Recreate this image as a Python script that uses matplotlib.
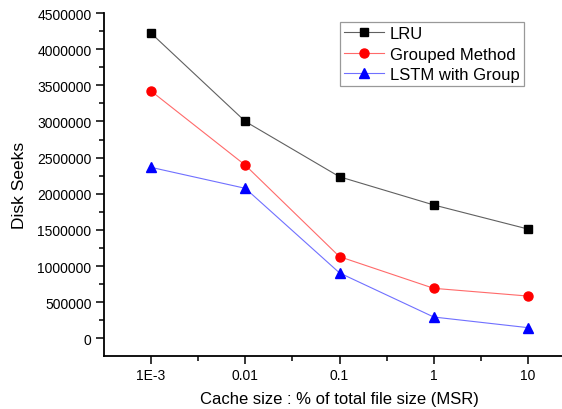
import matplotlib.pyplot as plt
from matplotlib.ticker import FixedLocator, FixedFormatter, NullFormatter

plt.rcParams['font.family'] = ['Liberation Sans', 'DejaVu Sans']

# ---------------------------
# Data
# ---------------------------

cache_sizes = [0.001, 0.01, 0.1, 1, 10]
cache_labels = ["1E-3", "0.01", "0.1", "1", "10"]

lru_seeks = [4220000, 3000000, 2235000, 1845000, 1512000]
grouped_seeks = [3420000, 2395000, 1130000, 692000, 585000]
lstm_seeks = [2365000, 2075000, 905000, 295000, 148000]

# ---------------------------
# Plot
# ---------------------------

fig = plt.figure(figsize=(5.62, 4.10), dpi=100)
ax = fig.add_axes([104 / 562, 1 - 356.7 / 410, 471 / 562, 342.7 / 410])

ax.plot(cache_sizes, lru_seeks, color='#606060', lw=0.8, marker='s', ms=5.5,
        mfc='black', mec='black', label="LRU")
ax.plot(cache_sizes, grouped_seeks, color='#ff6a6a', lw=0.8, marker='o', ms=6.5,
        mfc='red', mec='red', label="Grouped Method")
ax.plot(cache_sizes, lstm_seeks, color='#7070ff', lw=0.8, marker='^', ms=7,
        mfc='blue', mec='blue', label="LSTM with Group")

ax.set_xscale('log')
ax.set_xlim(10 ** -3.5, 10 ** 1.5)
ax.xaxis.set_major_locator(FixedLocator(cache_sizes))
ax.xaxis.set_major_formatter(FixedFormatter(cache_labels))
ax.xaxis.set_minor_locator(FixedLocator([10 ** (k + 0.5) for k in range(-3, 1)]))
ax.xaxis.set_minor_formatter(NullFormatter())

ax.set_ylim(-240000, 4500000)
yticks = list(range(0, 4500001, 500000))
ax.set_yticks(yticks)
ax.set_yticklabels([str(v) for v in yticks])
ax.set_yticks(range(250000, 4500000, 500000), minor=True)

for side in ['top', 'right']:
    ax.spines[side].set_visible(False)
for side in ['left', 'bottom']:
    ax.spines[side].set_linewidth(1.3)

ax.tick_params(which='major', direction='out', length=6, width=1.1, labelsize=10, pad=3)
ax.tick_params(which='minor', direction='out', length=3.5, width=1.1)

ax.set_ylabel("Disk Seeks", fontsize=12.5, labelpad=7)
ax.set_xlabel("Cache size : % of total file size (MSR)", fontsize=12, labelpad=6.5)

leg = ax.legend(loc='upper left', bbox_to_anchor=(340 / 562, 1 - 23 / 410),
                bbox_transform=fig.transFigure, fontsize=12, frameon=True,
                fancybox=False, edgecolor='#808080', handlelength=2.4,
                borderpad=0.25, labelspacing=0.33, handletextpad=0.35,
                borderaxespad=0)
leg.get_frame().set_linewidth(0.9)

fig.savefig("out.png", dpi=100)
